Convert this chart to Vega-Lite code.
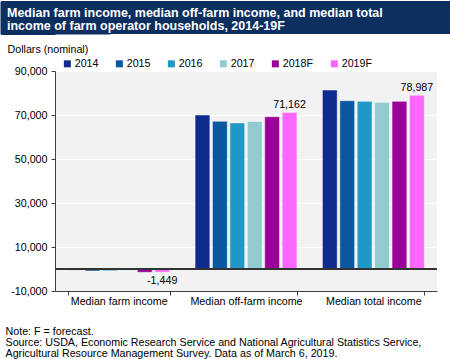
{
  "$schema": "https://vega.github.io/schema/vega-lite/v6.json",
  "background": "white",
  "padding": 0,
  "spacing": 8,
  "resolve": {"legend": {"color": "independent"}},
  "config": {
    "font": "Liberation Sans",
    "view": {"stroke": null},
    "locale": {"number": {"decimal": ".", "thousands": ",", "grouping": [3], "currency": ["$", ""], "minus": "-"}}
  },
  "title": {
    "text": ["Note: F = forecast.", "Source: USDA, Economic Research Service and National Agricultural Statistics Service,", "Agricultural Resource Management Survey. Data as of March 6, 2019."],
    "orient": "bottom",
    "anchor": "start",
    "frame": "bounds",
    "offset": 21,
    "dx": 5,
    "fontSize": 10.7,
    "fontWeight": "normal",
    "color": "#000000",
    "lineHeight": 11,
    "font": "Liberation Sans"
  },
  "vconcat": [
    {
      "width": 396,
      "height": 33,
      "view": {"fill": "#0c2f5f", "stroke": null},
      "title": {
        "text": ["Median farm income, median off-farm income, and median total", "income of farm operator households, 2014-19F"],
        "orient": "bottom",
        "anchor": "start",
        "frame": "group",
        "offset": -27.5,
        "dx": -48,
        "fontSize": 12.5,
        "fontWeight": "bold",
        "color": "#ffffff",
        "lineHeight": 13,
        "font": "Liberation Sans"
      },
      "data": {"values": [{"t": ""}]},
      "mark": {"type": "text", "text": ""},
      "encoding": {
        "y": {
          "datum": 0.5,
          "type": "quantitative",
          "scale": {"domain": [0, 1]},
          "axis": {"domain": true, "domainColor": "#0c2f5f", "domainWidth": 110, "domainCap": "butt", "ticks": true, "values": [0, 1], "tickSize": 54, "tickWidth": 1, "tickColor": "#0c2f5f", "labels": false, "grid": false, "title": null}
        }
      }
    },
    {
      "width": 382,
      "height": 220,
      "view": {"fill": "#f2f2f2", "stroke": null},
      "data": {
        "values": [
          {"category": "Median farm income", "year": "2014", "value": -500},
          {"category": "Median farm income", "year": "2015", "value": -900},
          {"category": "Median farm income", "year": "2016", "value": -800},
          {"category": "Median farm income", "year": "2017", "value": -600},
          {"category": "Median farm income", "year": "2018F", "value": -1500},
          {"category": "Median farm income", "year": "2019F", "value": -1449},
          {"category": "Median off-farm income", "year": "2014", "value": 70000},
          {"category": "Median off-farm income", "year": "2015", "value": 67150},
          {"category": "Median off-farm income", "year": "2016", "value": 66400},
          {"category": "Median off-farm income", "year": "2017", "value": 67050},
          {"category": "Median off-farm income", "year": "2018F", "value": 69250},
          {"category": "Median off-farm income", "year": "2019F", "value": 71162},
          {"category": "Median total income", "year": "2014", "value": 81350},
          {"category": "Median total income", "year": "2015", "value": 76500},
          {"category": "Median total income", "year": "2016", "value": 76200},
          {"category": "Median total income", "year": "2017", "value": 75750},
          {"category": "Median total income", "year": "2018F", "value": 76200},
          {"category": "Median total income", "year": "2019F", "value": 78987}
        ]
      },
      "encoding": {
        "x": {
          "field": "category",
          "type": "nominal",
          "sort": ["Median farm income", "Median off-farm income", "Median total income"],
          "scale": {"paddingInner": 0.2, "paddingOuter": 0.1},
          "axis": {
            "title": null,
            "labelAngle": 0,
            "labelFontSize": 10.7,
            "labelColor": "#000000",
            "labelPadding": 1,
            "tickBand": "extent",
            "tickSize": 4,
            "tickColor": "#404040",
            "domainColor": "#404040",
            "grid": false
          }
        },
        "xOffset": {
          "field": "year",
          "type": "nominal",
          "sort": ["2014", "2015", "2016", "2017", "2018F", "2019F"],
          "scale": {"paddingInner": 0.15, "paddingOuter": 0}
        },
        "y": {
          "field": "value",
          "type": "quantitative",
          "scale": {"domain": [-10000, 90000], "nice": false, "zero": false},
          "axis": {
            "values": [-10000, 10000, 30000, 50000, 70000, 90000],
            "format": ",.0f",
            "labelFontSize": 10.7,
            "labelColor": "#000000",
            "labelPadding": 4,
            "tickSize": 4,
            "tickColor": "#404040",
            "domainColor": "#404040",
            "grid": true,
            "gridColor": "#ffffff",
            "gridWidth": 1,
            "minExtent": 54,
            "title": "Dollars (nominal)",
            "titleAngle": 0,
            "titleAlign": "left",
            "titleBaseline": "alphabetic",
            "titleX": -48,
            "titleY": -19,
            "titleFontSize": 10.7,
            "titleFontWeight": "normal",
            "titleColor": "#000000"
          }
        }
      },
      "layer": [
        {
          "mark": {"type": "bar", "stroke": "#ffffff", "strokeWidth": 0.8, "strokeOpacity": 0.6},
          "encoding": {
            "color": {
              "field": "year",
              "type": "nominal",
              "scale": {
                "domain": ["2014", "2015", "2016", "2017", "2018F", "2019F"],
                "range": ["#0f2b8d", "#0b57a1", "#1f97c7", "#91cbd0", "#9a0099", "#ff66ff"]
              },
              "legend": {
                "title": null,
                "orient": "none",
                "direction": "horizontal",
                "legendX": 7,
                "legendY": -13,
                "padding": 0,
                "symbolType": "square",
                "symbolSize": 49,
                "symbolStrokeWidth": 0,
                "labelFontSize": 10.7,
                "labelColor": "#000000",
                "labelOffset": 2,
                "columnPadding": 15
              }
            }
          }
        },
        {
          "mark": {"type": "rule", "color": "#333333", "strokeWidth": 1},
          "encoding": {"y": {"datum": 0}, "x": null, "xOffset": null}
        },
        {
          "transform": [{"filter": "datum.year == '2019F' && datum.value > 0"}],
          "mark": {"type": "text", "baseline": "bottom", "dy": -2, "fontSize": 10.7, "color": "#000000"},
          "encoding": {"text": {"field": "value", "type": "quantitative", "format": ",.0f"}}
        },
        {
          "transform": [{"filter": "datum.year == '2019F' && datum.value < 0"}],
          "mark": {"type": "text", "baseline": "top", "dy": 4, "fontSize": 10.7, "color": "#000000"},
          "encoding": {"text": {"field": "value", "type": "quantitative", "format": ",.0f"}}
        }
      ]
    }
  ]
}
